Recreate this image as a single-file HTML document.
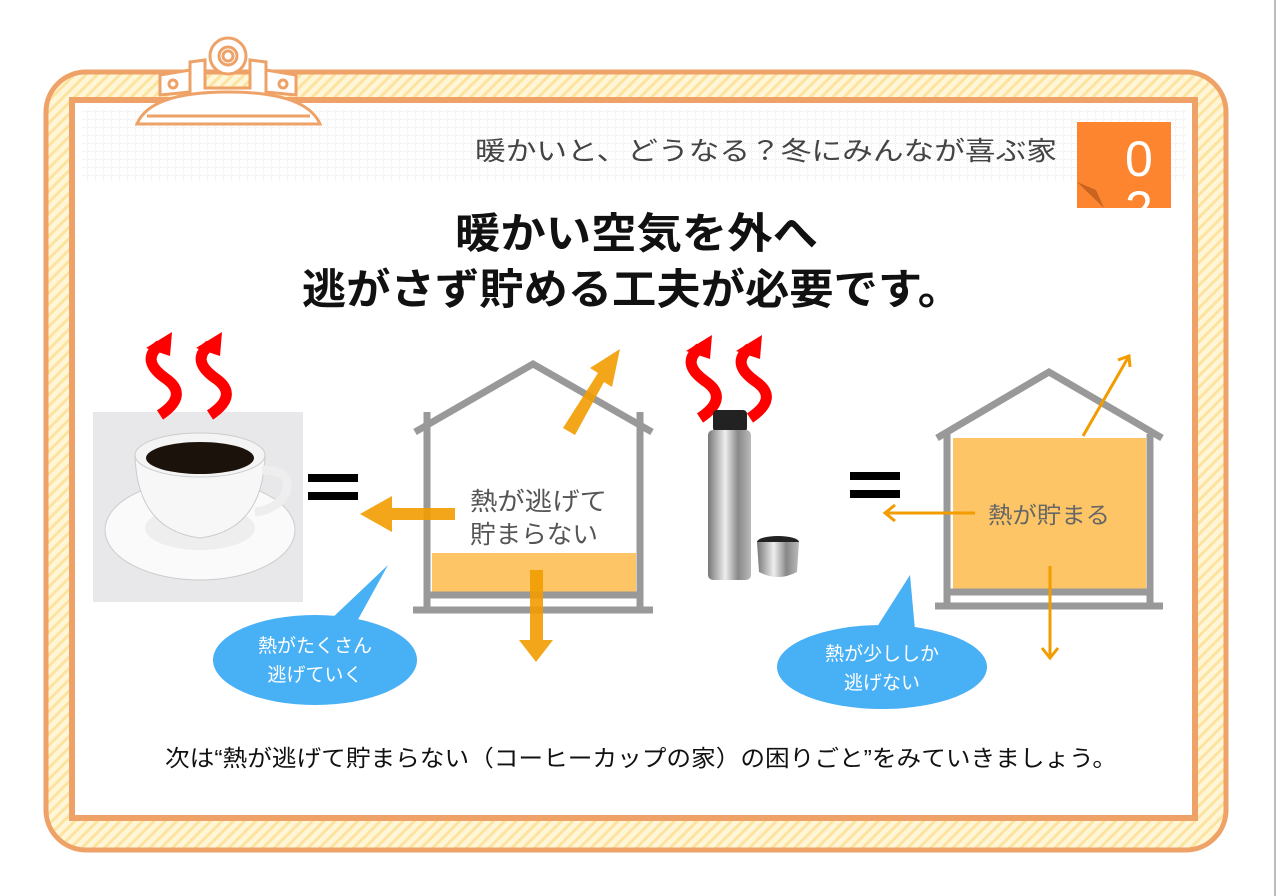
<!DOCTYPE html>
<html><head><meta charset="utf-8"><style>
html,body{margin:0;padding:0;background:#fff;}
body{width:1280px;height:896px;overflow:hidden;position:relative;font-family:"Liberation Sans","Noto Sans CJK JP",sans-serif;}
</style></head><body>
<svg width="1280" height="896" viewBox="0 0 1280 896" xmlns="http://www.w3.org/2000/svg" style="position:absolute;left:0;top:0">
<defs>
<pattern id="hatch" width="8" height="8" patternUnits="userSpaceOnUse" patternTransform="rotate(45)">
<rect width="8" height="8" fill="#fff6d8"/><rect width="3" height="8" fill="#fde3a0"/>
</pattern>
<pattern id="grid" width="8" height="8" patternUnits="userSpaceOnUse">
<rect width="8" height="8" fill="#fff"/><path d="M8 0V8M0 8H8" stroke="#d8d8d8" stroke-width="1" stroke-dasharray="1,1"/>
</pattern>
<linearGradient id="st" x1="0" x2="1"><stop offset="0" stop-color="#777"/><stop offset=".4" stop-color="#eee"/><stop offset=".7" stop-color="#888"/><stop offset="1" stop-color="#bbb"/></linearGradient>
</defs>
<line x1="1275" y1="0" x2="1275" y2="896" stroke="#bbb" stroke-width="2"/>
<!-- frame -->
<rect x="46" y="72" width="1180" height="778" rx="40" fill="url(#hatch)" stroke="#eea268" stroke-width="5"/>
<rect x="72" y="100" width="1123" height="718" fill="#fff" stroke="#eea268" stroke-width="6"/>
<rect x="82" y="110" width="1103" height="72" fill="url(#grid)"/>
<rect x="82" y="182" width="1103" height="632" fill="#fff"/>
<!-- clip -->
<g stroke="#eea268" stroke-width="3" fill="#fff">
<path d="M160 75 L190 70 L190 92 L160 95Z"/><path d="M296 75 L266 70 L266 92 L296 95Z"/>
<path d="M190 62 L205 60 L205 88 L250 88 L250 60 L266 62 L266 95 L190 95Z"/>
<circle cx="228" cy="56" r="18"/><circle cx="228" cy="56" r="9"/><circle cx="228" cy="56" r="5"/>
<circle cx="173" cy="84" r="4"/><circle cx="283" cy="84" r="4"/>
<path d="M137 124 Q150 92 228 92 Q306 92 320 124Z"/>
<line x1="147" y1="116" x2="310" y2="116"/>
</g>
<!-- badge -->
<rect x="1077" y="122" width="94" height="86" fill="#fd852f"/>
<path d="M1077 182 L1104 208 L1096 190Z" fill="#c96420"/>
<text x="1125" y="176" font-size="50" fill="#fff">0</text>
<text x="1125" y="226" font-size="50" fill="#fff">2</text>
<rect x="1100" y="208" width="80" height="30" fill="#fff"/>
<text x="475" y="160" font-size="26" fill="#444" textLength="582" lengthAdjust="spacingAndGlyphs">暖かいと、どうなる？冬にみんなが喜ぶ家</text>
<text x="455" y="248" font-size="42" font-weight="bold" fill="#111" textLength="363" lengthAdjust="spacingAndGlyphs">暖かい空気を外へ</text>
<text x="302" y="304" font-size="42" font-weight="bold" fill="#111" textLength="660" lengthAdjust="spacingAndGlyphs">逃がさず貯める工夫が必要です。</text>
<!-- coffee -->
<rect x="93" y="412" width="210" height="190" fill="#e8e8ea"/>
<ellipse cx="200" cy="530" rx="95" ry="50" fill="#fafafa" stroke="#ccc"/>
<ellipse cx="200" cy="528" rx="55" ry="22" fill="#eee"/>
<path d="M135 455 Q137 530 200 538 Q263 530 265 455Z" fill="#f7f7f7" stroke="#ccc"/>
<path d="M262 470 Q295 470 285 495 Q275 510 255 512" fill="none" stroke="#eee" stroke-width="9"/>
<ellipse cx="200" cy="455" rx="65" ry="22" fill="#f4f4f4" stroke="#ccc"/>
<ellipse cx="200" cy="458" rx="54" ry="16" fill="#1c120c"/>
<!-- steam -->
<g fill="none" stroke="#f00" stroke-width="11">
<path d="M160 415 Q190 395 165 378 Q140 360 160 345"/><path d="M210 415 Q240 395 215 378 Q190 360 210 345"/>
<path d="M700 418 Q730 398 705 381 Q680 363 700 348"/><path d="M750 418 Q780 398 755 381 Q730 363 750 348"/>
</g>
<path d="M146 348 L172 332 L170 356Z M196 348 L222 332 L220 356Z M686 351 L712 335 L710 359Z M736 351 L762 335 L760 359Z" fill="#f00"/>
<!-- equals -->
<rect x="308" y="474" width="50" height="8" fill="#000"/><rect x="308" y="492" width="50" height="8" fill="#000"/>
<rect x="850" y="472" width="50" height="8" fill="#000"/><rect x="850" y="490" width="50" height="8" fill="#000"/>
<!-- left house -->
<rect x="432" y="553" width="204" height="40" fill="#fdc565"/>
<g stroke="#999" stroke-width="7" fill="none">
<path d="M415 432 L533 364 L652 432"/><path d="M427 412 V608 M640 412 V608"/>
<path d="M413 610 H653"/><path d="M427 595 H640"/>
</g>
<text x="470" y="510" font-size="25" fill="#555" textLength="137" lengthAdjust="spacingAndGlyphs">熱が逃げて</text>
<text x="470" y="543" font-size="25" fill="#555" textLength="128" lengthAdjust="spacingAndGlyphs">貯まらない</text>
<g fill="#f29c00" opacity="0.9">
<path d="M455 508 H392 V496 L360 514 L392 532 V520 H455Z"/>
<path d="M530 570 H543 V640 H553 L536 662 L519 640 H530Z"/>
<path d="M563 428 L575 435 L604 382 L612 387 L620 349 L590 368 L598 373Z"/>
</g>
<!-- thermos -->
<rect x="713" y="410" width="34" height="22" rx="4" fill="#222"/>
<rect x="708" y="430" width="43" height="150" rx="5" fill="url(#st)"/>
<ellipse cx="778" cy="542" rx="21" ry="6" fill="#222"/>
<path d="M757 542 L759 572 Q778 582 797 572 L799 542Z" fill="url(#st)"/>
<!-- right house -->
<rect x="953" y="438" width="193" height="152" fill="#fdc565"/>
<g stroke="#999" stroke-width="7" fill="none">
<path d="M937 438 L1049 372 L1162 438"/><path d="M947 434 V604 M1150 434 V604"/>
<path d="M935 606 H1163"/><path d="M947 592 H1150"/>
</g>
<text x="988" y="523" font-size="23" fill="#666" textLength="122" lengthAdjust="spacingAndGlyphs">熱が貯まる</text>
<g stroke="#f29c00" stroke-width="3" fill="none">
<path d="M975 513 H885 M895 505 L885 513 L895 521"/>
<path d="M1050 566 V657 M1042 648 L1050 658 L1058 648"/>
<path d="M1083 436 L1129 356 M1118 360 L1129 356 L1130 367"/>
</g>
<!-- bubbles -->
<g fill="#48b0f5">
<ellipse cx="315" cy="660" rx="102" ry="45"/><path d="M330 620 L388 565 L355 625Z"/>
<ellipse cx="882" cy="667" rx="105" ry="42"/><path d="M875 630 L910 575 L915 630Z"/>
</g>
<g fill="#fff" font-size="19" text-anchor="middle">
<text x="315" y="652">熱がたくさん</text><text x="315" y="681">逃げていく</text>
<text x="882" y="660">熱が少ししか</text><text x="882" y="689">逃げない</text>
</g>
<text x="165" y="766" font-size="23" fill="#111" textLength="952" lengthAdjust="spacingAndGlyphs">次は“熱が逃げて貯まらない（コーヒーカップの家）の困りごと”をみていきましょう。</text>
</svg>
</body></html>
